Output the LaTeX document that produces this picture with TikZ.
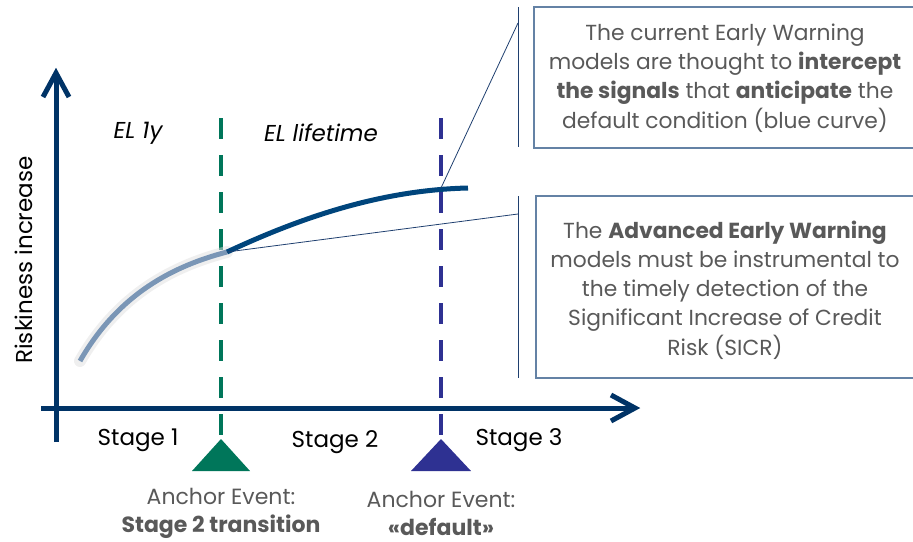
\documentclass[tikz,border=0pt]{standalone}
\usepackage{fontspec}
\setmainfont{Poppins}
\usetikzlibrary{calc}
\definecolor{navy}{RGB}{0,51,102}
\definecolor{curveblue}{RGB}{0,69,124}
\definecolor{lightcurve}{RGB}{122,150,182}
\definecolor{stgreen}{RGB}{0,118,90}
\definecolor{stpurple}{RGB}{46,49,146}
\definecolor{txtgray}{RGB}{89,89,89}
\definecolor{boxline}{RGB}{100,130,165}
\definecolor{callline}{RGB}{31,63,111}
\tikzset{
  axisline/.style={line width=5pt, draw=navy},
  axishead/.style={line width=5pt, draw=navy, line join=miter},
  stageline/.style={line width=4.5pt, dash pattern=on 21pt off 16pt},
  calloutbar/.style={line width=1pt, draw=callline},
  calloutbox/.style={line width=1.5pt, draw=boxline},
  boxtext/.style={text=txtgray, align=center, font=\fontsize{21.8}{29.2}\selectfont},
  stagetext/.style={text=black, font=\fontsize{23}{26}\selectfont},
  anchortext/.style={text=txtgray, align=center, font=\fontsize{22}{28}\selectfont},
  eltext/.style={text=black, font=\fontsize{23}{26}\selectfont\itshape},
}
\begin{document}
\begin{tikzpicture}[x=1pt,y=-1pt]
\useasboundingbox (0,0) rectangle (913,541);
\clip (0,0) rectangle (913,541);
% axes
\coordinate (ybot) at (56,442);
\coordinate (ytop) at (56,74);
\coordinate (xleft) at (41,408);
\coordinate (xright) at (634,408);
\draw[axisline] (ybot) -- (ytop);
\draw[axisline] (xleft) -- (xright);
\draw[axishead] (43,97) -- (56,73) -- (69,97);
\draw[axishead] (611,395) -- (635,408) -- (611,421);
% stage lines
\coordinate (g1) at (221,118);
\coordinate (g2) at (221,442);
\coordinate (b1) at (441,118);
\coordinate (b2) at (441,442);
\draw[stageline, draw=stgreen] (g1) -- (g2);
\draw[stageline, draw=stpurple] (b1) -- (b2);
% triangles
\fill[stgreen] (221,439) -- (250,471) -- (192,471) -- cycle;
\fill[stpurple] (441,439) -- (471,471) -- (411,471) -- cycle;
% curves
\coordinate (c0) at (80,361);
\coordinate (c1) at (227,252);
\coordinate (c2) at (468,188);
\draw[line width=12pt, white!88!black, opacity=0.5, line cap=round] (c0) .. controls (115,300) and (165,268) .. (c1);
\draw[line width=5pt, lightcurve] (c0) .. controls (115,300) and (165,268) .. (c1);
\draw[line width=5pt, curveblue] (c1) .. controls (300,218) and (380,190) .. (c2);
% callouts
\coordinate (cb1t) at (518,7);
\coordinate (cb1b) at (518,147);
\coordinate (cb1m) at (518,23);
\coordinate (p1) at (441,188);
\draw[calloutbar] (cb1t) -- (cb1b);
\draw[line width=0.8pt, callline] (cb1m) -- (p1);
\draw[calloutbox] (534,7) rectangle (916,148);
\coordinate (cb2t) at (518,196);
\coordinate (cb2b) at (518,378);
\coordinate (cb2m) at (518,214);
\draw[calloutbar] (cb2t) -- (cb2b);
\draw[line width=0.8pt, callline] (cb2m) -- (c1);
\draw[calloutbox] (536,196) rectangle (916,378);
\node[boxtext] (t1) at (725,78) {The current Early Warning\\models are thought to \textbf{intercept}\\\textbf{the signals} that \textbf{anticipate} the\\default condition (blue curve)};
\node[boxtext] (t2) at (725,290) {The \textbf{Advanced Early Warning}\\models must be instrumental to\\the timely detection of the\\Significant Increase of Credit\\Risk (SICR)};
% labels
\node[eltext] (el1) at (138,133) {EL 1y};
\node[eltext] (el2) at (321,133) {EL lifetime};
\node[text=black, rotate=90, font=\fontsize{23}{26}\selectfont] (ylab) at (24,260) {Riskiness increase};
\node[stagetext] (s1) at (138,440) {Stage 1};
\node[stagetext] (s2) at (335,442) {Stage 2};
\node[stagetext] (s3) at (519,440) {Stage 3};
\node[anchortext] (a1) at (221,513) {Anchor Event:\\\textbf{Stage 2 transition}};
\node[anchortext] (a2) at (441,513) {Anchor Event:\\\textbf{«default»}};
\end{tikzpicture}
\end{document}
